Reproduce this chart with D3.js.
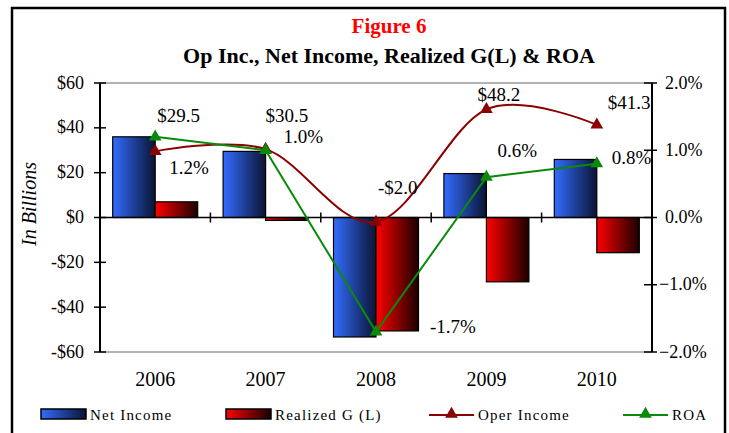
<!DOCTYPE html>
<html>
<head>
<meta charset="utf-8">
<script src="https://cdn.jsdelivr.net/npm/d3@7/dist/d3.min.js"></script>
<style>
  html, body { margin: 0; padding: 0; background: #fff; }
  svg { display: block; }
  text { font-family: "Liberation Serif", "Times New Roman", serif; fill: #000; }
</style>
</head>
<body>
<svg id="chart" width="729" height="433"></svg>
<script>
// ---- data ----
const years = ['2006', '2007', '2008', '2009', '2010'];
const netIncome = [36.0, 29.5, -53.3, 19.6, 25.9];
const realizedGL = [7.0, -1.3, -50.6, -28.7, -15.7];
const operIncome = [29.5, 30.5, -2.0, 48.2, 41.3];
const roa = [1.2, 1.0, -1.7, 0.6, 0.8];
const leftTicks = [60, 40, 20, 0, -20, -40, -60];
const rightTicks = [2, 1, 0, -1, -2];
const operLabels = ['$29.5', '$30.5', '-$2.0', '$48.2', '$41.3'];
const roaLabels = ['1.2%', '1.0%', '-1.7%', '0.6%', '0.8%'];
const seriesNames = ['Net Income', 'Realized G (L)', 'Oper Income', 'ROA'];

// ---- layout (label nudges relative to each marker) ----
const operLabelNudge = [[2, -29], [0, -27], [2, -28], [-9, -8], [11, -16]];
const roaLabelNudge = [[14, 37], [18, -7], [54, 1], [11, -20], [15, 0]];

const svg = d3.select('#chart');
const L = 100, R = 652, T = 83, B = 352;

const x = d3.scaleBand().domain(years).range([L, R]);
const xs = d3.scaleBand().domain(['ni', 'rg']).range([12.7, x.bandwidth() - 12.7]);
const yL = d3.scaleLinear().domain([-60, 60]).range([B, T]);
const yR = d3.scaleLinear().domain([-2, 2]).range([B, T]);
const cx = d => x(d) + x.bandwidth() / 2;

// gradients
const defs = svg.append('defs');
const gBlue = defs.append('linearGradient').attr('id', 'gBlue');
gBlue.append('stop').attr('offset', '0%').attr('stop-color', '#336cff');
gBlue.append('stop').attr('offset', '100%').attr('stop-color', '#0a1433');
const gRed = defs.append('linearGradient').attr('id', 'gRed');
gRed.append('stop').attr('offset', '0%').attr('stop-color', '#ff0000');
gRed.append('stop').attr('offset', '100%').attr('stop-color', '#1a0000');

// frame
svg.append('rect').attr('x', 12).attr('y', 8).attr('width', 713).attr('height', 450)
  .attr('fill', '#fff').attr('stroke', '#000').attr('stroke-width', 2.5);

// titles
svg.append('text').attr('x', 389).attr('y', 33).attr('text-anchor', 'middle')
  .style('font-size', '21px').style('font-weight', 'bold').style('fill', '#ff0000')
  .text('Figure 6');
svg.append('text').attr('x', 389).attr('y', 63).attr('text-anchor', 'middle')
  .style('font-size', '22px').style('font-weight', 'bold')
  .text('Op Inc., Net Income, Realized G(L) & ROA');

// plot border lines (top/bottom gray)
svg.append('line').attr('x1', L).attr('x2', R).attr('y1', yL(60)).attr('y2', yL(60))
  .attr('stroke', '#9a9a9a').attr('stroke-width', 1.5);
svg.append('line').attr('x1', L).attr('x2', R).attr('y1', yL(-60)).attr('y2', yL(-60))
  .attr('stroke', '#9a9a9a').attr('stroke-width', 1.5);

// bars
const barData = years.map((yr, i) => [
  { yr, key: 'ni', v: netIncome[i], fill: 'url(#gBlue)' },
  { yr, key: 'rg', v: realizedGL[i], fill: 'url(#gRed)' }
]).flat();
svg.append('g').selectAll('rect').data(barData).join('rect')
  .attr('x', d => x(d.yr) + xs(d.key))
  .attr('width', xs.bandwidth())
  .attr('y', d => yL(Math.max(0, d.v)))
  .attr('height', d => Math.abs(yL(d.v) - yL(0)))
  .attr('fill', d => d.fill)
  .attr('stroke', '#000').attr('stroke-width', 1.2);

// zero line + category ticks
svg.append('line').attr('x1', L).attr('x2', R).attr('y1', yL(0)).attr('y2', yL(0))
  .attr('stroke', '#000').attr('stroke-width', 1.5);
svg.append('g').selectAll('line').data(years.slice(1)).join('line')
  .attr('x1', d => x(d)).attr('x2', d => x(d))
  .attr('y1', yL(0) - 5).attr('y2', yL(0) + 5)
  .attr('stroke', '#000').attr('stroke-width', 1.5);

// x labels
svg.append('g').selectAll('text').data(years).join('text')
  .attr('x', d => cx(d)).attr('y', 386).attr('text-anchor', 'middle')
  .style('font-size', '20px').text(d => d);

// left axis
svg.append('line').attr('x1', L).attr('x2', L).attr('y1', T).attr('y2', B)
  .attr('stroke', '#000').attr('stroke-width', 2);
const la = svg.append('g');
la.selectAll('line').data(leftTicks).join('line')
  .attr('x1', L - 6).attr('x2', L + 6).attr('y1', d => yL(d)).attr('y2', d => yL(d))
  .attr('stroke', '#000').attr('stroke-width', 1.5);
la.selectAll('text').data(leftTicks).join('text')
  .attr('x', 84).attr('y', d => yL(d) + 5.5).attr('text-anchor', 'end')
  .style('font-size', '18px')
  .text(d => (d < 0 ? '-$' : '$') + Math.abs(d));

// right axis
svg.append('line').attr('x1', R).attr('x2', R).attr('y1', T).attr('y2', B)
  .attr('stroke', '#000').attr('stroke-width', 2);
const ra = svg.append('g');
ra.selectAll('line').data(rightTicks).join('line')
  .attr('x1', R - 8).attr('x2', R + 5).attr('y1', d => yR(d)).attr('y2', d => yR(d))
  .attr('stroke', '#000').attr('stroke-width', 1.5);
ra.selectAll('text').data(rightTicks).join('text')
  .attr('x', d => d < 0 ? 659 : 665).attr('y', d => yR(d) + 5.5)
  .style('font-size', '18px')
  .text(d => d3.format('.1f')(d) + '%');

// y title
svg.append('text').attr('transform', 'translate(36,204) rotate(-90)')
  .attr('text-anchor', 'middle').style('font-size', '20px').style('font-style', 'italic')
  .text('In Billions');

// lines
const tri = d3.symbol().type(d3.symbolTriangle).size(70);
const operColor = '#8b0000', roaColor = '#0a8a0a';

const operLine = d3.line().x((d, i) => cx(years[i])).y(d => yL(d)).curve(d3.curveCatmullRom.alpha(0));
svg.append('path').datum(operIncome).attr('d', operLine)
  .attr('fill', 'none').attr('stroke', operColor).attr('stroke-width', 2);
svg.append('g').selectAll('path').data(operIncome).join('path')
  .attr('transform', (d, i) => `translate(${cx(years[i])},${yL(d)})`)
  .attr('d', tri).attr('fill', operColor);

const roaLine = d3.line().x((d, i) => cx(years[i])).y(d => yR(d));
svg.append('path').datum(roa).attr('d', roaLine)
  .attr('fill', 'none').attr('stroke', roaColor).attr('stroke-width', 2);
svg.append('g').selectAll('path').data(roa).join('path')
  .attr('transform', (d, i) => `translate(${cx(years[i])},${yR(d)})`)
  .attr('d', tri).attr('fill', roaColor);

// data labels
svg.append('g').selectAll('text').data(operIncome).join('text')
  .attr('x', (d, i) => cx(years[i]) + operLabelNudge[i][0])
  .attr('y', (d, i) => yL(d) + operLabelNudge[i][1])
  .style('font-size', '19px').text((d, i) => operLabels[i]);
svg.append('g').selectAll('text').data(roa).join('text')
  .attr('x', (d, i) => cx(years[i]) + roaLabelNudge[i][0])
  .attr('y', (d, i) => yR(d) + roaLabelNudge[i][1])
  .style('font-size', '19px').text((d, i) => roaLabels[i]);

// legend
const lg = svg.append('g');
const legX = [41, 226, 429, 623];
const ly = 414;
seriesNames.forEach((name, i) => {
  const g = lg.append('g').attr('transform', `translate(${legX[i]},0)`);
  if (i < 2) {
    g.append('rect').attr('x', 0).attr('y', ly - 5).attr('width', 45).attr('height', 10)
      .attr('fill', i === 0 ? 'url(#gBlue)' : 'url(#gRed)')
      .attr('stroke', '#000').attr('stroke-width', 1.5);
  } else {
    const c = i === 2 ? operColor : roaColor;
    g.append('line').attr('x1', 0).attr('x2', 45).attr('y1', ly + 1).attr('y2', ly + 1)
      .attr('stroke', c).attr('stroke-width', 2);
    g.append('path').attr('transform', `translate(22.5,${ly})`).attr('d', tri).attr('fill', c);
  }
  g.append('text').attr('x', 49).attr('y', ly + 5.5)
    .style('font-size', '15px').style('letter-spacing', '1.2px').text(name);
});
</script>
</body>
</html>
